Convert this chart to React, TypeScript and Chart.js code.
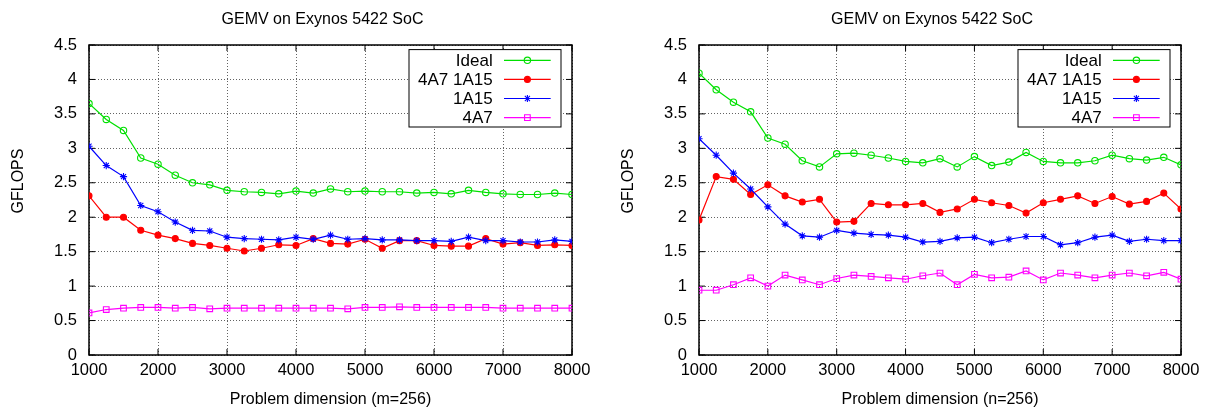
import React, { useEffect, useRef } from 'react';
import { Chart, registerables } from 'chart.js';

Chart.register(...registerables);

const xValues = [1000, 1250, 1500, 1750, 2000, 2250, 2500, 2750, 3000, 3250, 3500, 3750, 4000, 4250, 4500, 4750, 5000, 5250, 5500, 5750, 6000, 6250, 6500, 6750, 7000, 7250, 7500, 7750, 8000];

const seriesLabels = ['Ideal', '4A7 1A15', '1A15', '4A7'];

// Left chart: Problem dimension (m=256)
const leftIdeal = [3.65, 3.42, 3.26, 2.86, 2.77, 2.61, 2.50, 2.47, 2.39, 2.37, 2.36, 2.34, 2.38, 2.35, 2.41, 2.37, 2.38, 2.37, 2.37, 2.35, 2.36, 2.34, 2.39, 2.36, 2.34, 2.33, 2.33, 2.35, 2.33];
const left4A71A15 = [2.31, 2.00, 2.00, 1.81, 1.74, 1.69, 1.62, 1.59, 1.55, 1.51, 1.55, 1.60, 1.59, 1.69, 1.62, 1.61, 1.68, 1.55, 1.66, 1.66, 1.59, 1.58, 1.58, 1.69, 1.61, 1.63, 1.59, 1.60, 1.59];
const left1A15 = [3.03, 2.75, 2.59, 2.17, 2.08, 1.93, 1.81, 1.80, 1.71, 1.69, 1.68, 1.67, 1.71, 1.68, 1.74, 1.68, 1.69, 1.67, 1.67, 1.66, 1.66, 1.65, 1.71, 1.66, 1.66, 1.64, 1.64, 1.67, 1.65];
const left4A7 = [0.61, 0.66, 0.68, 0.69, 0.69, 0.68, 0.69, 0.67, 0.68, 0.68, 0.68, 0.68, 0.68, 0.68, 0.68, 0.67, 0.69, 0.69, 0.70, 0.69, 0.69, 0.69, 0.69, 0.69, 0.68, 0.68, 0.68, 0.68, 0.68];

// Right chart: Problem dimension (n=256)
const rightIdeal = [4.09, 3.85, 3.67, 3.53, 3.15, 3.06, 2.82, 2.73, 2.92, 2.93, 2.90, 2.86, 2.81, 2.79, 2.85, 2.73, 2.88, 2.75, 2.80, 2.94, 2.81, 2.79, 2.79, 2.82, 2.90, 2.85, 2.83, 2.87, 2.76];
const right4A71A15 = [1.96, 2.59, 2.55, 2.33, 2.47, 2.31, 2.22, 2.26, 1.93, 1.94, 2.20, 2.18, 2.18, 2.20, 2.07, 2.12, 2.26, 2.21, 2.17, 2.06, 2.21, 2.26, 2.31, 2.20, 2.30, 2.19, 2.23, 2.35, 2.12];
const right1A15 = [3.14, 2.90, 2.64, 2.41, 2.15, 1.90, 1.73, 1.71, 1.81, 1.77, 1.75, 1.74, 1.71, 1.64, 1.65, 1.70, 1.71, 1.63, 1.68, 1.72, 1.72, 1.60, 1.63, 1.71, 1.74, 1.65, 1.68, 1.66, 1.66];
const right4A7 = [0.94, 0.94, 1.02, 1.12, 1.00, 1.16, 1.09, 1.02, 1.11, 1.16, 1.14, 1.12, 1.10, 1.15, 1.19, 1.02, 1.17, 1.12, 1.13, 1.22, 1.09, 1.19, 1.16, 1.12, 1.16, 1.19, 1.15, 1.20, 1.10];

const chartTitle = 'GEMV on Exynos 5422 SoC';
const yTitle = 'GFLOPS';
const leftXTitle = 'Problem dimension (m=256)';
const rightXTitle = 'Problem dimension (n=256)';

const seriesColors = ['#00e000', '#ff0000', '#0000ff', '#ff00ff'];
const seriesPointStyles = ['circle', 'circle', 'star', 'rect'];
const seriesFilled = [false, true, false, false];
const seriesRadius = [3.2, 3, 3.6, 4];

const FONT = "'Liberation Sans', Arial, Helvetica, sans-serif";

function drawMarker(ctx: CanvasRenderingContext2D, style: string, x: number, y: number, r: number, filled: boolean, color: string) {
  ctx.save();
  ctx.strokeStyle = color;
  ctx.fillStyle = color;
  ctx.lineWidth = 1.1;
  ctx.beginPath();
  if (style === 'circle') {
    ctx.arc(x, y, r, 0, Math.PI * 2);
    if (filled) ctx.fill();
    ctx.stroke();
  } else if (style === 'rect') {
    const s = r * Math.SQRT1_2;
    ctx.rect(x - s, y - s, 2 * s, 2 * s);
    ctx.stroke();
  } else if (style === 'star') {
    ctx.moveTo(x - r, y); ctx.lineTo(x + r, y);
    ctx.moveTo(x, y - r); ctx.lineTo(x, y + r);
    const d = r * Math.SQRT1_2;
    ctx.moveTo(x - d, y - d); ctx.lineTo(x + d, y + d);
    ctx.moveTo(x - d, y + d); ctx.lineTo(x + d, y - d);
    ctx.stroke();
  }
  ctx.restore();
}

type PanelProps = { series: number[][]; xTitle: string; plotLeft: number; padRight: number };

function Panel({ series, xTitle, plotLeft, padRight }: PanelProps) {
  const ref = useRef<HTMLCanvasElement>(null);
  useEffect(() => {
    if (!ref.current) return;
    const decor = {
      id: 'decor',
      beforeDatasetsDraw(chart: any) {
        const { ctx, chartArea: a, scales } = chart;
        ctx.save();
        ctx.strokeStyle = '#000';
        ctx.lineWidth = 1;
        ctx.beginPath();
        scales.x.ticks.forEach((t: any) => {
          const px = scales.x.getPixelForValue(t.value);
          ctx.moveTo(px, a.bottom); ctx.lineTo(px, a.bottom - 6);
          ctx.moveTo(px, a.top); ctx.lineTo(px, a.top + 6);
        });
        scales.y.ticks.forEach((t: any) => {
          const py = scales.y.getPixelForValue(t.value);
          ctx.moveTo(a.left, py); ctx.lineTo(a.left + 6, py);
          ctx.moveTo(a.right, py); ctx.lineTo(a.right - 6, py);
        });
        ctx.stroke();
        ctx.lineWidth = 1.5;
        ctx.strokeRect(a.left, a.top, a.right - a.left, a.bottom - a.top);
        ctx.restore();
      },
      afterDraw(chart: any) {
        const { ctx, chartArea: a } = chart;
        ctx.save();
        // legend
        const bw = 152, bh = 77.4;
        const bx = a.right - 11 - bw;
        const by = a.top + 4.6;
        ctx.fillStyle = '#fff';
        ctx.fillRect(bx, by, bw, bh);
        ctx.strokeStyle = '#000';
        ctx.lineWidth = 1;
        ctx.strokeRect(bx, by, bw, bh);
        ctx.font = `17px ${FONT}`;
        ctx.textAlign = 'right';
        ctx.textBaseline = 'middle';
        chart.data.datasets.forEach((ds: any, i: number) => {
          const cy = by + 10.7 + i * 19.1;
          ctx.fillStyle = '#000';
          ctx.fillText(ds.label, bx + bw - 68.3, cy + 1);
          ctx.strokeStyle = seriesColors[i];
          ctx.lineWidth = 1.2;
          ctx.beginPath();
          ctx.moveTo(bx + bw - 57, cy);
          ctx.lineTo(bx + bw - 10.3, cy);
          ctx.stroke();
          drawMarker(ctx, seriesPointStyles[i], bx + bw - 33.6, cy, seriesRadius[i], seriesFilled[i], seriesColors[i]);
        });
        // titles
        const cx = (a.left + a.right) / 2;
        ctx.fillStyle = '#000';
        ctx.font = `16px ${FONT}`;
        ctx.textAlign = 'center';
        ctx.textBaseline = 'alphabetic';
        ctx.fillText(chartTitle, cx - 8, 24.3);
        ctx.fillText(xTitle, cx, 404);
        ctx.translate(a.left - 70.5, 181);
        ctx.rotate(-Math.PI / 2);
        ctx.textBaseline = 'middle';
        ctx.fillText(yTitle, 0, 0);
        ctx.restore();
      },
    };

    const chart = new Chart(ref.current, {
      type: 'line',
      data: {
        datasets: series.map((vals, i) => ({
          label: seriesLabels[i],
          data: xValues.map((x, j) => ({ x, y: vals[j] })),
          borderColor: seriesColors[i],
          backgroundColor: seriesFilled[i] ? seriesColors[i] : 'rgba(0,0,0,0)',
          pointStyle: seriesPointStyles[i] as any,
          pointRadius: seriesRadius[i],
          pointBorderWidth: 1.1,
          borderWidth: 1.2,
          tension: 0,
          order: 4 - i,
        })),
      },
      options: {
        responsive: false,
        animation: false,
        devicePixelRatio: 1,
        layout: { padding: { top: 45, right: padRight, left: 0, bottom: 0 } },
        plugins: { legend: { display: false }, title: { display: false }, tooltip: { enabled: false } },
        scales: {
          x: {
            type: 'linear',
            min: 1000,
            max: 8000,
            afterFit: (s: any) => { s.height = 55; },
            ticks: {
              stepSize: 1000,
              color: '#000',
              font: { family: FONT, size: 16.5 },
              padding: 6,
              maxRotation: 0,
              callback: (v: any) => String(v),
            },
            grid: { color: 'rgba(60,60,60,0.8)', lineWidth: 1, drawTicks: false },
            border: { display: false, dash: [1, 2] },
          },
          y: {
            type: 'linear',
            min: 0,
            max: 4.5,
            afterFit: (s: any) => { s.width = plotLeft; },
            ticks: {
              stepSize: 0.5,
              color: '#000',
              font: { family: FONT, size: 16.5 },
              padding: 12,
              callback: (v: any) => String(v),
            },
            grid: { color: 'rgba(60,60,60,0.8)', lineWidth: 1, drawTicks: false },
            border: { display: false, dash: [1, 2] },
          },
        },
      },
      plugins: [decor],
    } as any);
    return () => chart.destroy();
  }, []);
  return <canvas ref={ref} width={605} height={410} style={{ display: 'block', width: 605, height: 410 }} />;
}

export default function App() {
  return (
    <div style={{ position: 'fixed', left: 0, top: 0, width: 1210, height: 410, display: 'flex', background: '#fff' }}>
      <Panel series={[leftIdeal, left4A71A15, left1A15, left4A7]} xTitle={leftXTitle} plotLeft={89} padRight={33} />
      <Panel series={[rightIdeal, right4A71A15, right1A15, right4A7]} xTitle={rightXTitle} plotLeft={94} padRight={29} />
    </div>
  );
}
